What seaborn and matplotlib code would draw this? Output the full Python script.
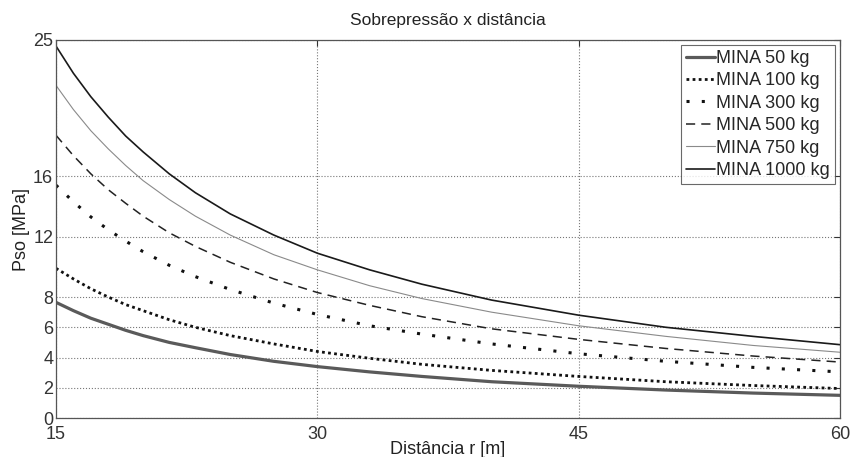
import matplotlib
matplotlib.use('Agg')
import matplotlib.pyplot as plt
import seaborn as sns

# distance r [m]
dist = [15, 16, 17, 18, 19, 20, 21.5, 23, 25, 27.5, 30, 33, 36, 40, 45, 50, 55, 60]

# Pso [MPa]
mina_50 = [7.65, 7.1, 6.6, 6.2, 5.8, 5.45, 5.0, 4.65, 4.2, 3.75, 3.4, 3.05, 2.75, 2.4, 2.1, 1.85, 1.65, 1.5]
mina_100 = [9.9, 9.2, 8.55, 8.0, 7.5, 7.1, 6.5, 6.0, 5.45, 4.9, 4.4, 3.95, 3.55, 3.15, 2.75, 2.4, 2.15, 1.95]
mina_300 = [15.4, 14.3, 13.3, 12.45, 11.7, 11.0, 10.1, 9.35, 8.5, 7.6, 6.85, 6.1, 5.55, 4.9, 4.25, 3.75, 3.35, 3.05]
mina_500 = [18.7, 17.35, 16.15, 15.1, 14.2, 13.35, 12.25, 11.35, 10.3, 9.2, 8.3, 7.45, 6.7, 5.9, 5.2, 4.6, 4.1, 3.7]
mina_750 = [22.0, 20.4, 19.0, 17.8, 16.7, 15.7, 14.45, 13.35, 12.1, 10.8, 9.8, 8.75, 7.9, 7.0, 6.1, 5.4, 4.8, 4.35]
mina_1000 = [24.6, 22.8, 21.25, 19.9, 18.65, 17.6, 16.15, 14.9, 13.5, 12.1, 10.9, 9.8, 8.85, 7.8, 6.8, 6.0, 5.4, 4.85]

labels = ['MINA 50 kg', 'MINA 100 kg', 'MINA 300 kg', 'MINA 500 kg', 'MINA 750 kg', 'MINA 1000 kg']
x_ticks = [15, 30, 45, 60]
y_ticks = [0, 2, 4, 6, 8, 12, 16, 25]

sns.set_style('white')
plt.rcParams['font.family'] = ['Liberation Sans', 'DejaVu Sans']

fig = plt.figure(figsize=(8.52, 4.57), dpi=100)
ax = fig.add_axes([0.0657, 0.0853, 0.9203, 0.8272])

series = [mina_50, mina_100, mina_300, mina_500, mina_750, mina_1000]
styles = [
    dict(color='#5a5a5a', linewidth=2.3, linestyle='-'),
    dict(color='#111111', linewidth=2.0, linestyle=(0, (1, 1.2))),
    dict(color='#111111', linewidth=2.2, linestyle=(0, (1, 4))),
    dict(color='#222222', linewidth=1.1, linestyle=(0, (6, 4))),
    dict(color='#8a8a8a', linewidth=0.8, linestyle='-'),
    dict(color='#1a1a1a', linewidth=1.2, linestyle='-'),
]
for vals, lab, st in zip(series, labels, styles):
    sns.lineplot(x=dist, y=vals, ax=ax, label=lab, **st)

ax.set_xlim(15, 60)
ax.set_ylim(0, 25)
ax.set_xticks(x_ticks)
ax.set_yticks(y_ticks)
ax.grid(True, linestyle=':', color='#777777', linewidth=0.8)
ax.tick_params(direction='in', length=4, labelsize=13, colors='#333333',
               top=True, right=True)
ax.tick_params(axis='x', pad=6)
ax.tick_params(axis='y', pad=2)
for sp in ax.spines.values():
    sp.set_color('#555555')
    sp.set_linewidth(0.9)

ax.set_title('Sobrepressão x distância', fontsize=12.5, color='#222222', pad=11)
ax.set_xlabel('Distância r [m]', fontsize=13, color='#222222', labelpad=-2)
ax.set_ylabel('Pso [MPa]', fontsize=13, color='#222222', labelpad=2)

leg = ax.legend(loc='upper right', fontsize=13, frameon=True, fancybox=False,
                handlelength=1.6, handletextpad=0.1, labelspacing=0.3,
                borderaxespad=0.3, borderpad=0.25)
leg.get_frame().set_edgecolor('#444444')
leg.get_frame().set_linewidth(0.8)

fig.savefig('out.png', dpi=100)
